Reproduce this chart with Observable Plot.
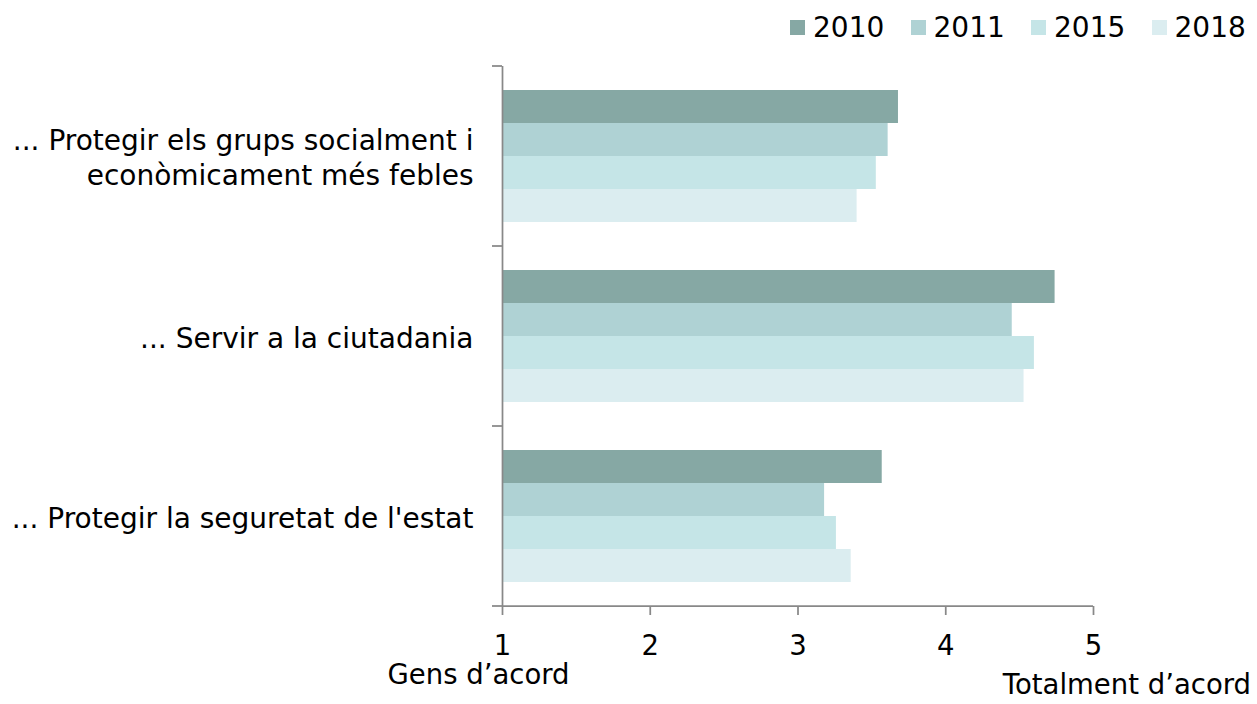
<!DOCTYPE html>
<html><head><meta charset="utf-8">
<script src="https://cdn.jsdelivr.net/npm/d3@7"></script>
<script src="https://cdn.jsdelivr.net/npm/@observablehq/plot@0.6"></script>
<style>
body{margin:0;background:#fff;}
#wrap{position:relative;width:1257px;height:704px;font-family:"DejaVu Sans",sans-serif;color:#000;overflow:hidden;}
#wrap svg{position:absolute;left:0;top:0;}
#legend{position:absolute;left:790px;top:13.6px;display:flex;font-size:28px;line-height:28px;}
#legend .item{display:flex;align-items:center;width:120.5px;}
#legend .sw{width:15px;height:15px;margin-right:8px;}
.endlab{position:absolute;font-size:27.5px;line-height:27.5px;white-space:nowrap;}
</style></head><body><div id="wrap"></div>
<script>
const categories = ["protegir_grups", "servir", "seguretat"];
const categoryLabels = ["... Protegir els grups socialment i\neconòmicament més febles", "... Servir a la ciutadania", "... Protegir la seguretat de l'estat"];
const years = ["2010", "2011", "2015", "2018"];
const colors = ["#86a8a4", "#afd2d4", "#c5e5e7", "#dbedf0"];
const values2010 = [3.68, 4.74, 3.57];
const values2011 = [3.61, 4.45, 3.18];
const values2015 = [3.53, 4.60, 3.26];
const values2018 = [3.40, 4.53, 3.36];
const xTicks = [1, 2, 3, 4, 5];
const axisEndLabels = ["Gens d’acord", "Totalment d’acord"];

const series = [values2010, values2011, values2015, values2018];
const data = [];
categories.forEach((c, i) => series.forEach((arr, j) => data.push({category: c, year: years[j], value: arr[i]})));
const labelOf = new Map(categories.map((c, i) => [c, categoryLabels[i]]));

const plot = Plot.plot({
  width: 1257, height: 704,
  marginLeft: 502, marginRight: 164, marginTop: 65, marginBottom: 97,
  style: {fontFamily: "DejaVu Sans", fontSize: "27px", background: "transparent", color: "#000"},
  x: {domain: [1, 5]},
  y: {domain: years, paddingInner: 0, paddingOuter: 0.7, axis: null},
  fy: {domain: categories, padding: 0},
  color: {domain: years, range: colors},
  marks: [
    Plot.barX(data, {fy: "category", y: "year", x1: 1, x2: "value", fill: "year"}),
    Plot.ruleX([1], {stroke: "#888", strokeWidth: 1.75}),
    Plot.axisX({ticks: xTicks, tickFormat: d3.format("d"), tickSize: 9, tickPadding: 20, fontSize: 27.5, stroke: "#888", strokeWidth: 1.75, fill: "#000", label: null}),
    Plot.axisFy({anchor: "left", tickSize: 0, tickPadding: 29, fontSize: 28, lineHeight: 1.25, label: null, fill: "#000", tickFormat: d => labelOf.get(d)})
  ]
});

// boundary ticks on the category axis and the x-axis baseline, placed with the scales
const fy = plot.scale("fy");
const xs = plot.scale("x");
const edges = categories.map(c => fy.apply(c));
const bottom = fy.apply(categories[categories.length - 1]) + fy.bandwidth;
edges.push(bottom);
const x0 = xs.apply(1);
const g = d3.select(plot).append("g").attr("stroke", "#888").attr("stroke-width", 1.75);
g.selectAll("line.t").data(edges).join("line").attr("class", "t")
  .attr("x1", x0 - 10).attr("x2", x0).attr("y1", d => d).attr("y2", d => d);
g.append("line").attr("x1", x0).attr("x2", xs.apply(xTicks[xTicks.length - 1]))
  .attr("y1", bottom).attr("y2", bottom);

const wrap = document.getElementById("wrap");
wrap.appendChild(plot);

// legend
const legend = document.createElement("div");
legend.id = "legend";
years.forEach((y, i) => {
  const it = document.createElement("div"); it.className = "item";
  const sw = document.createElement("div"); sw.className = "sw"; sw.style.background = colors[i];
  const tx = document.createElement("span"); tx.textContent = y;
  it.appendChild(sw); it.appendChild(tx); legend.appendChild(it);
});
wrap.appendChild(legend);

// axis end labels
const l1 = document.createElement("div"); l1.className = "endlab";
l1.textContent = axisEndLabels[0];
l1.style.left = (xs.apply(1) - 23.5) + "px"; l1.style.top = "661px"; l1.style.transform = "translateX(-50%)";
wrap.appendChild(l1);
const l2 = document.createElement("div"); l2.className = "endlab";
l2.textContent = axisEndLabels[1];
l2.style.right = "6px"; l2.style.top = "671px";
wrap.appendChild(l2);
</script>
</body></html>
